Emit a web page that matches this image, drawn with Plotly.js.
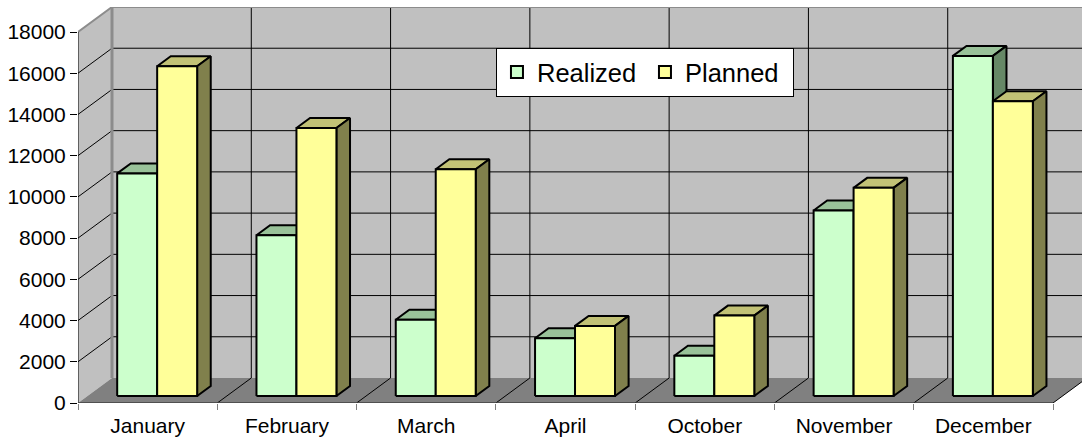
<!DOCTYPE html>
<html>
<head>
<meta charset="utf-8">
<script src="https://cdn.plot.ly/plotly-3.0.1.min.js"></script>
<style>html,body{margin:0;padding:0;background:#fff}#chart{width:1082px;height:439px}</style>
</head>
<body>
<div id="chart"></div>
<script>
// ---- data ----
var categories = ['January', 'February', 'March', 'April', 'October', 'November', 'December'];
var realized = [10800, 7800, 3700, 2800, 1950, 9000, 16500];
var planned = [16000, 13000, 11000, 3400, 3900, 10100, 14300];
var yTicks = [0, 2000, 4000, 6000, 8000, 10000, 12000, 14000, 16000, 18000];
var yTickText = ['0', '2000', '4000', '6000', '8000', '10000', '12000', '14000', '16000', '18000'];
var seriesNames = ['Realized', 'Planned'];

// ---- 3D look parameters (oblique projection) ----
var PX_PER_CAT = 139.286;           // px per category
var PX_PER_VAL = 20.611 / 1000;     // px per value unit
var DX = 34 / PX_PER_CAT;           // full depth, x (category units)
var DY = 25 / PX_PER_VAL;           // full depth, y (value units)
var F0 = 0.28, F1 = 0.68;           // bar front/back depth fractions
var BW = 0.287;                     // bar width (category units)
var YMAX = 18000;
var N = categories.length;

var plotW = 1082 - 78, plotH = 403 - 7;
var xRange = [0, plotW / PX_PER_CAT];
var yRange = [0, plotH / PX_PER_VAL];

var traces = [];
function poly(xs, ys, fill, line, lw, name) {
  return {type: 'scatter', mode: 'lines', x: xs, y: ys, fill: 'toself', fillcolor: fill,
    line: {color: line, width: lw}, hoverinfo: 'skip', showlegend: false, name: name || ''};
}
function lines(xs, ys, color, w) {
  return {type: 'scatter', mode: 'lines', x: xs, y: ys, line: {color: color, width: w},
    hoverinfo: 'skip', showlegend: false, connectgaps: false};
}

// walls
traces.push(poly([DX, N + DX + 1, N + DX + 1, DX, DX], [DY, DY, YMAX + DY, YMAX + DY, DY], '#c0c0c0', 'rgba(0,0,0,0)', 0));
traces.push(poly([0, DX, DX, 0, 0], [0, DY, YMAX + DY, YMAX, 0], '#c0c0c0', 'rgba(0,0,0,0)', 0));
// floor
traces.push(poly([0, N, N + DX, DX, 0], [0, 0, DY, DY, 0], '#808080', 'rgba(0,0,0,0)', 0));

// gridlines
(function () {
  var gx = [], gy = [];
  yTicks.forEach(function (v) {
    if (v === 0 || v === YMAX) return;
    gx.push(0, DX, N + DX + 1, null); gy.push(v, v + DY, v + DY, null);
  });
  for (var k = 1; k < N; k++) { gx.push(k + DX, k + DX, null); gy.push(DY, YMAX + DY, null); }
  for (var k2 = 1; k2 <= N; k2++) { gx.push(k2, k2 + DX, null); gy.push(0, DY, null); }
  traces.push(lines(gx, gy, '#000000', 1));
  // wall edges (gray)
  traces.push(lines([0, DX, N + DX + 1], [YMAX, YMAX + DY, YMAX + DY], '#8c8c8c', 2));
  traces.push(lines([DX, DX], [DY, YMAX + DY], '#8c8c8c', 3));
  // front axes
  traces.push(lines([0, 0], [0, YMAX], '#000000', 1));
  traces.push(lines([0, N], [0, 0], '#404040', 1.5));
})();

// bars
var colors = [
  {front: '#ccffcc', top: '#99c299', side: '#668866'},
  {front: '#ffff99', top: '#c2c276', side: '#80804c'}
];
[realized, planned].forEach(function (vals, s) {
  var fx = [], fy = [], tx = [], ty = [], sx = [], sy = [];
  var b = F0 * DY, ddx = (F1 - F0) * DX, ddy = (F1 - F0) * DY;
  vals.forEach(function (v, i) {
    var x0 = i + 0.5 - BW + s * BW + F0 * DX, x1 = x0 + BW;
    fx.push(x0, x1, x1, x0, x0, null); fy.push(b, b, b + v, b + v, b, null);
    tx.push(x0, x1, x1 + ddx, x0 + ddx, x0, null); ty.push(b + v, b + v, b + v + ddy, b + v + ddy, b + v, null);
    sx.push(x1, x1 + ddx, x1 + ddx, x1, x1, null); sy.push(b, b + ddy, b + v + ddy, b + v, b, null);
  });
  traces.push(poly(tx, ty, colors[s].top, '#000000', 2));
  traces.push(poly(sx, sy, colors[s].side, '#000000', 2));
  traces.push(poly(fx, fy, colors[s].front, '#000000', 2, seriesNames[s]));
});

// legend entries
seriesNames.forEach(function (nm, s) {
  traces.push({type: 'scatter', mode: 'markers', x: [null], y: [null], name: nm, showlegend: true,
    marker: {symbol: 'square', size: 16, color: colors[s].front, line: {color: '#000000', width: 1.5}}});
});

var layout = {
  width: 1082, height: 439,
  margin: {l: 78, r: 0, t: 7, b: 36, pad: 0},
  paper_bgcolor: '#ffffff', plot_bgcolor: '#ffffff',
  font: {family: 'Liberation Sans, Arial, sans-serif', color: '#000000', size: 21},
  showlegend: true,
  legend: {orientation: 'h', x: 0.4163, y: 0.8965, xanchor: 'left', yanchor: 'top',
    bgcolor: '#ffffff', bordercolor: '#000000', borderwidth: 1, font: {size: 25.5},
    itemsizing: 'constant', itemclick: false, itemwidth: 30, tracegroupgap: 0,
    entrywidth: 103, entrywidthmode: 'pixels'},
  xaxis: {range: xRange, showgrid: false, zeroline: false, showline: false,
    tickmode: 'array', tickvals: categories.map(function (c, i) { return i + 0.5; }), ticktext: categories,
    ticks: '', ticklabelstandoff: 8,
    minor: {tickmode: 'array', tickvals: categories.map(function (c, i) { return i; }).concat([N]),
      ticks: 'outside', ticklen: 6, tickcolor: '#808080', tickwidth: 1, showgrid: false},
    fixedrange: true},
  yaxis: {range: yRange, showgrid: false, zeroline: false, showline: false,
    tickmode: 'array', tickvals: yTicks, ticktext: yTickText, ticks: 'outside', ticklen: 7, tickcolor: '#000000',
    tickwidth: 1, fixedrange: true}
};

Plotly.newPlot('chart', traces, layout, {displayModeBar: false, staticPlot: true});
</script>
</body>
</html>
